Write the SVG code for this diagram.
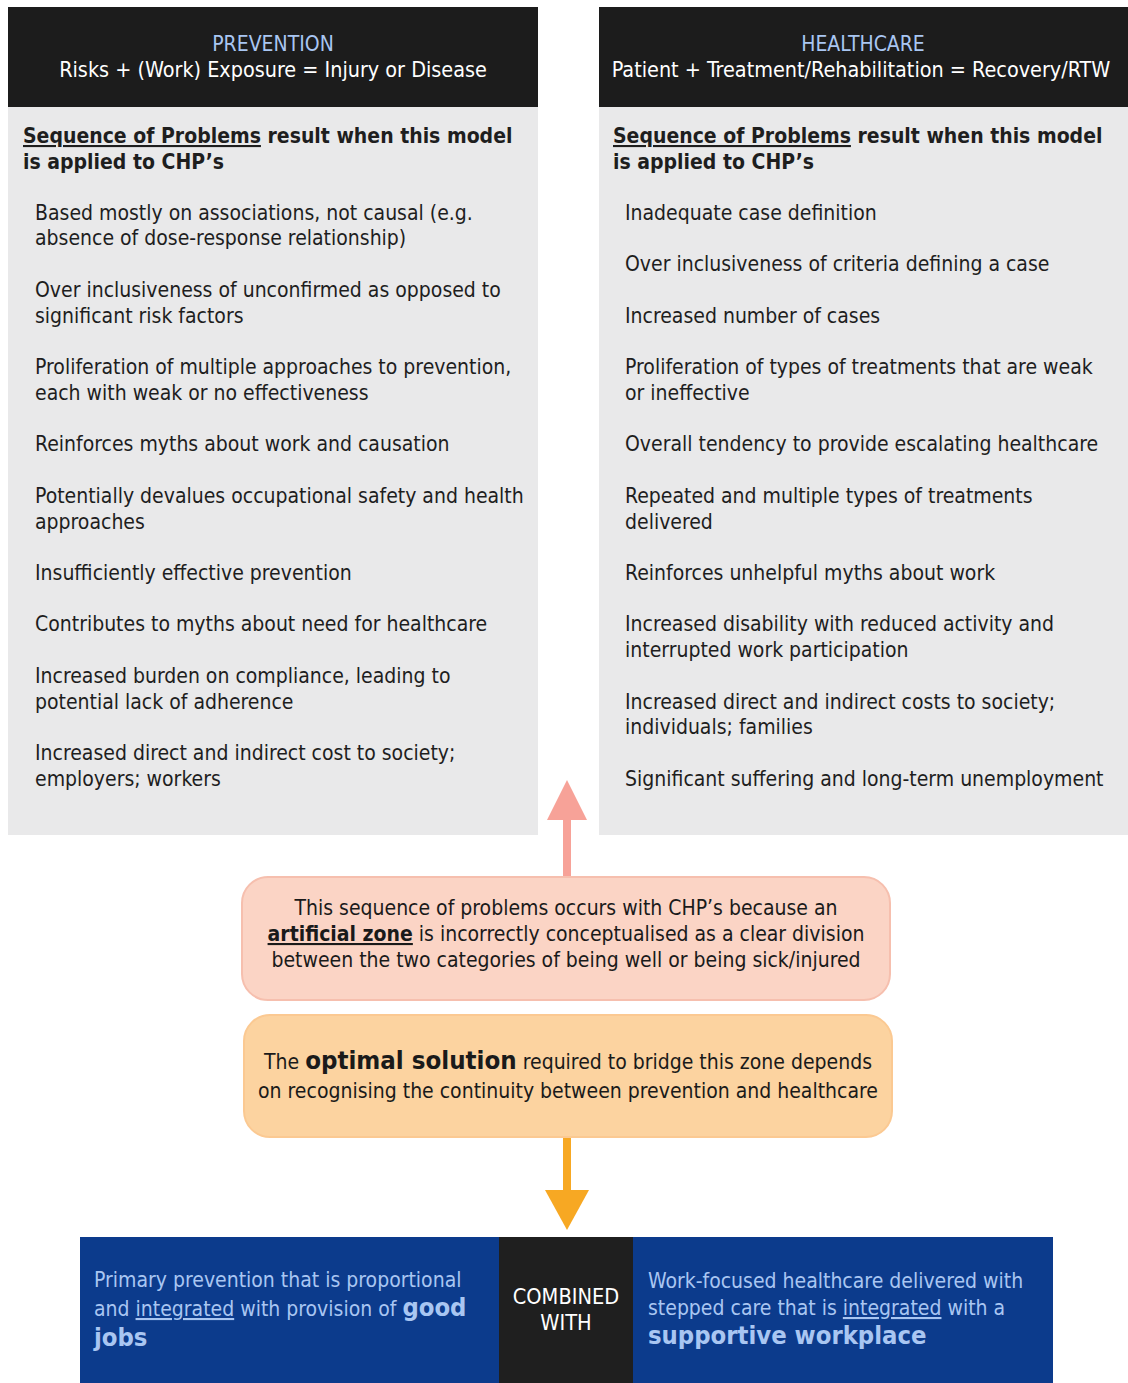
<svg xmlns="http://www.w3.org/2000/svg" width="1128" height="1383" viewBox="0 0 1128 1383">
<style>
text{font-family:"DejaVu Sans Condensed","DejaVu Sans",sans-serif;}
.hd{fill:#1c1c1c;}
.panel{fill:#e9e9ea;}
.t1{font-size:21px;fill:#a9c6f2;text-anchor:middle;}
.t2{font-size:21.4px;fill:#ffffff;text-anchor:middle;}
.sq{font-size:21px;font-weight:bold;fill:#1e1e1e;}
.it{font-size:21px;fill:#1e1e1e;}
.mid{font-size:21px;fill:#1a1a1a;text-anchor:middle;}
.bl{font-size:21px;fill:#a9c6f2;}
.blb{font-size:25.4px;font-weight:bold;fill:#a9c6f2;}
.cw{font-size:21.6px;fill:#ffffff;text-anchor:middle;}
</style>
<rect width="1128" height="1383" fill="#ffffff"/>
<g id="prevention">
<rect class="panel" x="8" y="107" width="530" height="728"/>
<rect class="hd" x="8" y="7" width="530" height="100"/>
<text class="t1" x="273" y="51">PREVENTION</text>
<text class="t2" x="273" y="77">Risks + (Work) Exposure = Injury or Disease</text>
<text class="sq" x="23" y="143"><tspan text-decoration="underline">Sequence of Problems</tspan> result when this model</text>
<text class="sq" x="23" y="169">is applied to CHP’s</text>
<text class="it" x="35" y="220">Based mostly on associations, not causal (e.g.</text>
<text class="it" x="35" y="245">absence of dose-response relationship)</text>
<text class="it" x="35" y="297">Over inclusiveness of unconfirmed as opposed to</text>
<text class="it" x="35" y="323">significant risk factors</text>
<text class="it" x="35" y="374">Proliferation of multiple approaches to prevention,</text>
<text class="it" x="35" y="400">each with weak or no effectiveness</text>
<text class="it" x="35" y="451">Reinforces myths about work and causation</text>
<text class="it" x="35" y="503">Potentially devalues occupational safety and health</text>
<text class="it" x="35" y="529">approaches</text>
<text class="it" x="35" y="580">Insufficiently effective prevention</text>
<text class="it" x="35" y="631">Contributes to myths about need for healthcare</text>
<text class="it" x="35" y="683">Increased burden on compliance, leading to</text>
<text class="it" x="35" y="709">potential lack of adherence</text>
<text class="it" x="35" y="760">Increased direct and indirect cost to society;</text>
<text class="it" x="35" y="786">employers; workers</text>
</g>
<g id="healthcare">
<rect class="panel" x="599" y="107" width="529" height="728"/>
<rect class="hd" x="599" y="7" width="529" height="100"/>
<text class="t1" x="863" y="51">HEALTHCARE</text>
<text class="t2" x="861" y="77">Patient + Treatment/Rehabilitation = Recovery/RTW</text>
<text class="sq" x="613" y="143"><tspan text-decoration="underline">Sequence of Problems</tspan> result when this model</text>
<text class="sq" x="613" y="169">is applied to CHP’s</text>
<text class="it" x="625" y="220">Inadequate case definition</text>
<text class="it" x="625" y="271">Over inclusiveness of criteria defining a case</text>
<text class="it" x="625" y="323">Increased number of cases</text>
<text class="it" x="625" y="374">Proliferation of types of treatments that are weak</text>
<text class="it" x="625" y="400">or ineffective</text>
<text class="it" x="625" y="451">Overall tendency to provide escalating healthcare</text>
<text class="it" x="625" y="503">Repeated and multiple types of treatments</text>
<text class="it" x="625" y="529">delivered</text>
<text class="it" x="625" y="580">Reinforces unhelpful myths about work</text>
<text class="it" x="625" y="631">Increased disability with reduced activity and</text>
<text class="it" x="625" y="657">interrupted work participation</text>
<text class="it" x="625" y="709">Increased direct and indirect costs to society;</text>
<text class="it" x="625" y="734">individuals; families</text>
<text class="it" x="625" y="786">Significant suffering and long-term unemployment</text>
</g>
<g id="connectors">
<rect x="563" y="818" width="8" height="60" fill="#f7a298"/>
<polygon points="547,820 587,820 567,780" fill="#f7a298"/>
<rect x="563" y="1136" width="8" height="58" fill="#f7a823"/>
<polygon points="545,1190 589,1190 567,1230" fill="#f7a823"/>
</g>
<g id="artificial-zone">
<rect x="242" y="877" width="648" height="123" rx="26" fill="#fbd4c5" stroke="#f6bfae" stroke-width="2"/>
<text class="mid" x="566" y="915">This sequence of problems occurs with CHP’s because an</text>
<text class="mid" x="566" y="941"><tspan font-weight="bold" text-decoration="underline">artificial zone</tspan> is incorrectly conceptualised as a clear division</text>
<text class="mid" x="566" y="967">between the two categories of being well or being sick/injured</text>
</g>
<g id="optimal-solution">
<rect x="244" y="1015" width="648" height="122" rx="26" fill="#fcd3a0" stroke="#fbc992" stroke-width="2"/>
<text class="mid" x="568" y="1069">The <tspan font-weight="bold" font-size="25.6">optimal solution</tspan> required to bridge this zone depends</text>
<text class="mid" x="568" y="1098">on recognising the continuity between prevention and healthcare</text>
</g>
<g id="combined">
<rect x="80" y="1237" width="973" height="146" fill="#0c3b8c"/>
<rect x="499" y="1237" width="134" height="146" fill="#1f1f1f"/>
<text class="bl" x="94" y="1287">Primary prevention that is proportional</text>
<text class="bl" x="94" y="1316">and <tspan text-decoration="underline">integrated</tspan> with provision of <tspan class="blb">good</tspan></text>
<text class="blb" x="94" y="1346">jobs</text>
<text class="cw" x="566" y="1304">COMBINED</text>
<text class="cw" x="566" y="1330">WITH</text>
<text class="bl" x="648" y="1288">Work-focused healthcare delivered with</text>
<text class="bl" x="648" y="1315">stepped care that is <tspan text-decoration="underline">integrated</tspan> with a</text>
<text class="blb" x="648" y="1344">supportive workplace</text>
</g>
</svg>
